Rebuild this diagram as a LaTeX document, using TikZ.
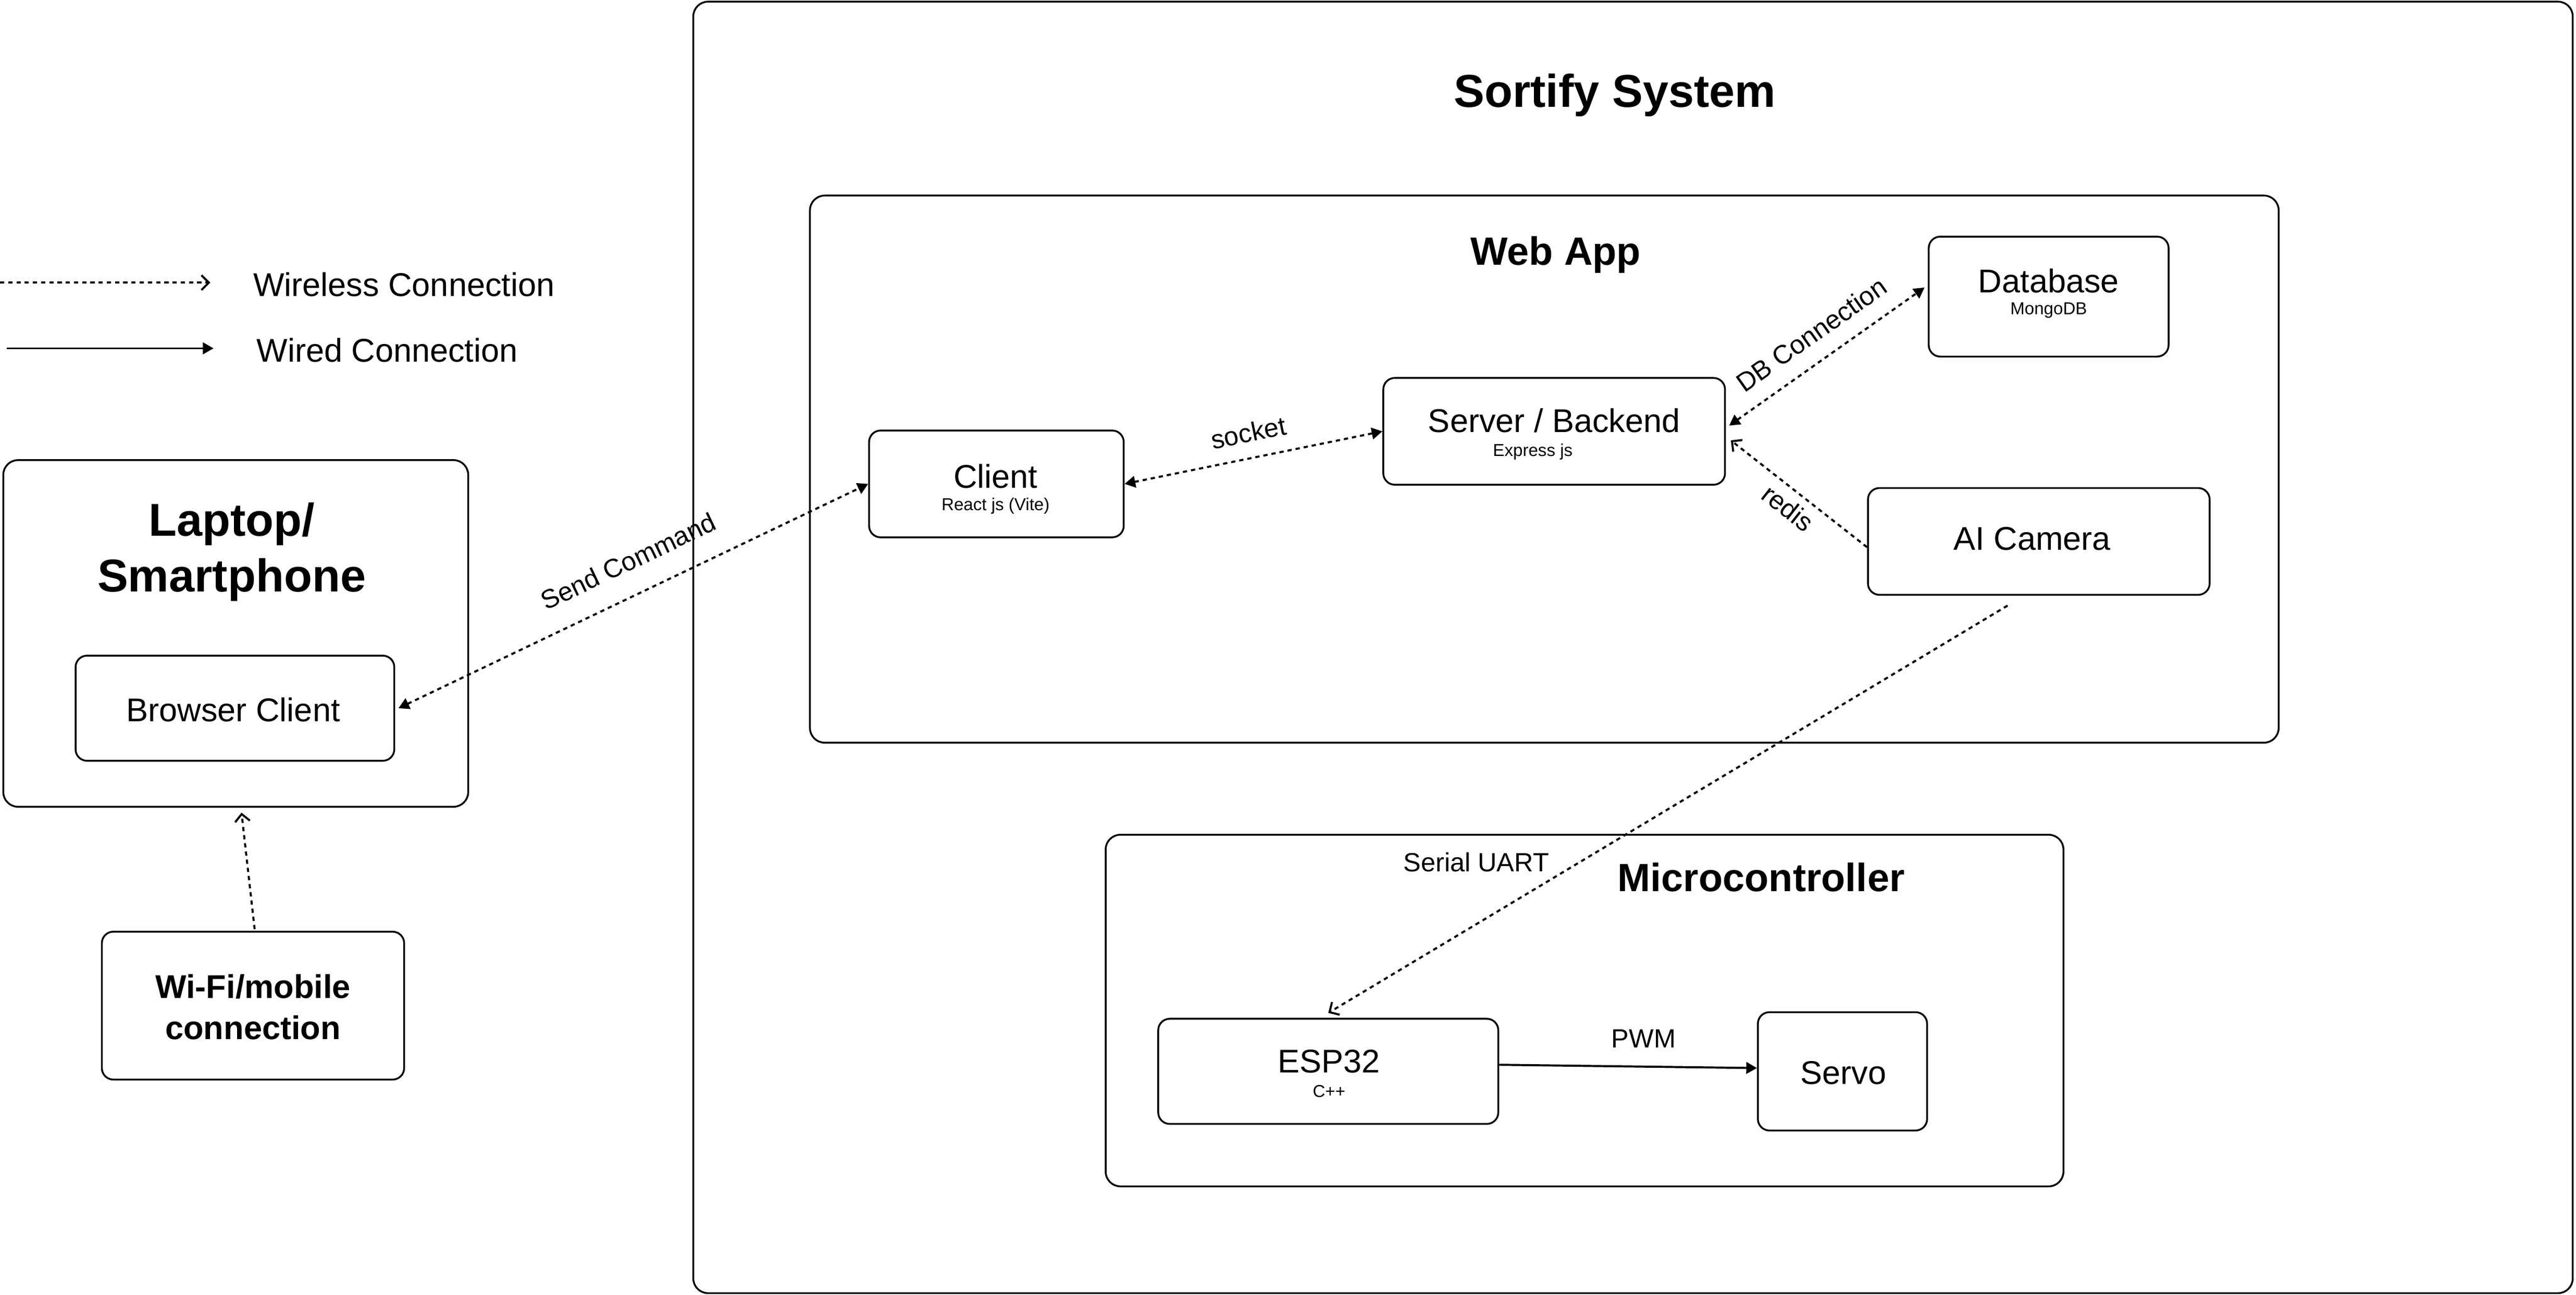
\documentclass[tikz,border=0pt]{standalone}
\usepackage{fontspec}
\setmainfont{Liberation Sans}
\usetikzlibrary{arrows.meta,calc}
\begin{document}
\begin{tikzpicture}[x=1pt,y=-1pt,
  box/.style={draw, line width=1.1pt, rounded corners=7pt, inner sep=0pt},
  bigbox/.style={draw, line width=1.1pt, rounded corners=9pt, inner sep=0pt},
  lbl/.style={font=\fontsize{20}{24}\selectfont, inner sep=0pt},
  sub/.style={font=\fontsize{10.5}{12}\selectfont, inner sep=0pt},
  ttl/.style={font=\bfseries\fontsize{24}{29}\selectfont, inner sep=0pt},
  bigttl/.style={font=\bfseries\fontsize{28}{34}\selectfont, inner sep=0pt, align=center},
  elbl/.style={font=\fontsize{16}{19}\selectfont, inner sep=0pt},
  wl/.style={line width=1.25pt, dash pattern=on 2.6pt off 2.4pt},
  wd/.style={line width=1.25pt},
  bothtri/.style={arrows={Triangle[length=6.5pt,width=7pt]-Triangle[length=6.5pt,width=7pt]}},
  totri/.style={arrows={-Triangle[length=6.5pt,width=7pt]}},
  tobarb/.style={arrows={-Straight Barb[length=4.5pt,width=9pt]}},
]
\useasboundingbox (0,0) rectangle (1568,788);

% containers
\node[bigbox, minimum width=1144, minimum height=786] (sys) at (994,394) {};
\node[bigbox, minimum width=894, minimum height=333] (web) at (940,285.5) {};
\node[bigbox, minimum width=583, minimum height=214] (mcu) at (964.5,615) {};
\node[bigbox, minimum width=283, minimum height=211] (laptop) at (143.5,385.5) {};

% titles
\node[bigttl] (sysT) at (983,58) {Sortify System};
\node[ttl] (webT) at (947,155) {Web App};
\node[ttl] (mcuT) at (1072,534) {Microcontroller};
\node[bigttl] (lapT) at (141,336) {Laptop/\\Smartphone};

% boxes
\node[box, minimum width=146, minimum height=73] (db) at (1247,180.5) {};
\node[box, minimum width=208, minimum height=65] (srv) at (946,262.5) {};
\node[box, minimum width=155, minimum height=65] (client) at (606.5,294.5) {};
\node[box, minimum width=208, minimum height=65] (ai) at (1241,329.5) {};
\node[box, minimum width=194, minimum height=64] (browser) at (143,431) {};
\node[box, minimum width=184, minimum height=90] (wifi) at (154,612) {};
\node[box, minimum width=207, minimum height=64] (esp) at (808.5,652) {};
\node[box, minimum width=103, minimum height=72] (servo) at (1121.5,652) {};

% box texts
\node[lbl] (dbT) at (1247,171) {Database};
\node[sub] (dbS) at (1247,189) {MongoDB};
\node[lbl] (srvT) at (946,256) {Server / Backend};
\node[sub] (srvS) at (933,275) {Express js};
\node[lbl] (clientT) at (606,290) {Client};
\node[sub] (clientS) at (606,308) {React js (Vite)};
\node[lbl] (aiT) at (1237,328) {AI Camera};
\node[lbl] (browserT) at (142,432) {Browser Client};
\node[font=\bfseries\fontsize{20}{25}\selectfont, inner sep=0pt, align=center] (wifiT) at (154,613) {Wi-Fi/mobile\\connection};
\node[lbl] (espT) at (809,646) {ESP32};
\node[sub] (espS) at (809,664) {C++};
\node[lbl] (servoT) at (1122,653) {Servo};

% legend
\coordinate (lw1) at (0,172);
\coordinate (lw2) at (128,172);
\coordinate (ld1) at (4,212);
\coordinate (ld2) at (130,212);
\draw[wl, tobarb] (lw1) -- (lw2);
\draw[wd, totri] (ld1) -- (ld2);
\node[lbl, anchor=west] (legW) at (154,173) {Wireless Connection};
\node[lbl, anchor=west] (legD) at (156,213) {Wired Connection};

% connectors
\draw[wl, bothtri] ($(browser.east)+(2,0)$) -- node[elbl, pos=0.52, sloped, above=14pt] {Send Command} (client.west);
\draw[wl, bothtri] (client.east) -- node[elbl, sloped, above=9pt] {socket} (srv.west);
\draw[wl, bothtri] ($(srv.east)+(2,-3.5)$) -- node[elbl, sloped, above=10pt] {DB Connection} ($(db.west)+(-2,-5.5)$);
\draw[wl, tobarb] ($(ai.west)+(0,3.5)$) -- node[elbl, sloped, below=4.5pt] {redis} ($(srv.east)+(3,5.5)$);
\draw[wl, tobarb] ($(ai.south)+(-19,6)$) -- node[elbl, pos=0.63, left=18pt] {Serial UART} ($(esp.north)+(0,-3)$);
\draw[wd, totri] ($(esp.east)+(0,-4)$) -- node[elbl, pos=0.56, above=11pt] {PWM} ($(servo.west)+(0,-2)$);
\draw[wl, tobarb] ($(wifi.north)+(1,-1)$) -- ($(laptop.south)+(3.5,3)$);
\end{tikzpicture}
\end{document}
